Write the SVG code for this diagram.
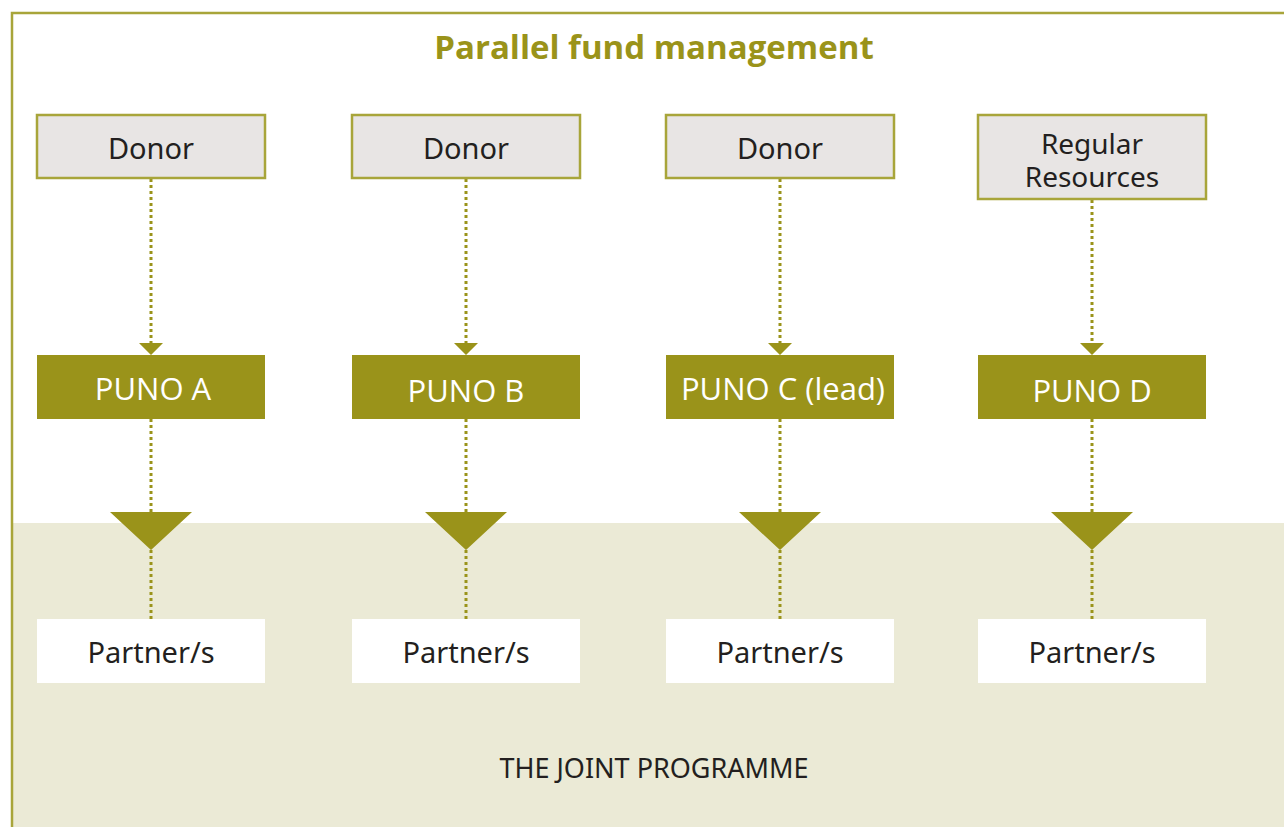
<svg xmlns="http://www.w3.org/2000/svg" width="1284" height="827" viewBox="0 0 1284 827">
<style>
.title{font-family:"Open Sans","Noto Sans",sans-serif;font-weight:bold;font-size:33px;fill:#9a931a}
.src{fill:#e8e5e4;stroke:#a8a53a;stroke-width:2.5}
.puno{fill:#9a931a}
.part{fill:#ffffff}
.dk{font-family:"Noto Sans","Open Sans",sans-serif;font-size:29px;fill:#231f20}
.wt{font-family:"Open Sans","Noto Sans",sans-serif;font-size:31px;fill:#ffffff}
.dot{stroke:#9a931a;stroke-width:3;stroke-dasharray:3 3;fill:none}
.tri{fill:#9a931a}
</style>
<rect x="0" y="0" width="1284" height="827" fill="#ffffff"/>
<rect x="11" y="523" width="1273" height="304" fill="#ebead6"/>
<path d="M12 827 V13 H1284" fill="none" stroke="#a8a53a" stroke-width="2.5"/>
<text class="title" x="654" y="59" text-anchor="middle">Parallel fund management</text>
<g id="connectors">
<path class="dot" d="M151 179 V344 M151 419 V513 M151 550 V619"/>
<path class="dot" d="M466 179 V344 M466 419 V513 M466 550 V619"/>
<path class="dot" d="M780 179 V344 M780 419 V513 M780 550 V619"/>
<path class="dot" d="M1092 200 V344 M1092 419 V513 M1092 550 V619"/>
<path class="tri" d="M139 343 H163 L151 355 Z M454 343 H478 L466 355 Z M768 343 H792 L780 355 Z M1080 343 H1104 L1092 355 Z"/>
<path class="tri" d="M110 512 H192 L151 550 Z M425 512 H507 L466 550 Z M739 512 H821 L780 550 Z M1051 512 H1133 L1092 550 Z"/>
</g>
<g id="donor-a"><rect class="src" x="37" y="115" width="228" height="63"/><text class="dk" x="151" y="159" text-anchor="middle">Donor</text></g>
<g id="donor-b"><rect class="src" x="352" y="115" width="228" height="63"/><text class="dk" x="466" y="159" text-anchor="middle">Donor</text></g>
<g id="donor-c"><rect class="src" x="666" y="115" width="228" height="63"/><text class="dk" x="780" y="159" text-anchor="middle">Donor</text></g>
<g id="regular-resources"><rect class="src" x="978" y="115" width="228" height="84"/><text class="dk" x="1092" y="154" text-anchor="middle" style="font-size:28px">Regular</text><text class="dk" x="1092" y="187" text-anchor="middle" style="font-size:28px">Resources</text></g>
<g id="puno-a"><rect class="puno" x="37" y="355" width="228" height="64"/><text class="wt" x="153" y="400" text-anchor="middle">PUNO A</text></g>
<g id="puno-b"><rect class="puno" x="352" y="355" width="228" height="64"/><text class="wt" x="466" y="402" text-anchor="middle">PUNO B</text></g>
<g id="puno-c"><rect class="puno" x="666" y="355" width="228" height="64"/><text class="wt" x="783" y="400" text-anchor="middle">PUNO C (lead)</text></g>
<g id="puno-d"><rect class="puno" x="978" y="355" width="228" height="64"/><text class="wt" x="1092" y="402" text-anchor="middle">PUNO D</text></g>
<g id="partner-a"><rect class="part" x="37" y="619" width="228" height="64"/><text class="dk" x="151" y="663" text-anchor="middle">Partner/s</text></g>
<g id="partner-b"><rect class="part" x="352" y="619" width="228" height="64"/><text class="dk" x="466" y="663" text-anchor="middle">Partner/s</text></g>
<g id="partner-c"><rect class="part" x="666" y="619" width="228" height="64"/><text class="dk" x="780" y="663" text-anchor="middle">Partner/s</text></g>
<g id="partner-d"><rect class="part" x="978" y="619" width="228" height="64"/><text class="dk" x="1092" y="663" text-anchor="middle">Partner/s</text></g>
<text class="dk" x="654" y="778" text-anchor="middle" style="font-size:27px">THE JOINT PROGRAMME</text>
</svg>
